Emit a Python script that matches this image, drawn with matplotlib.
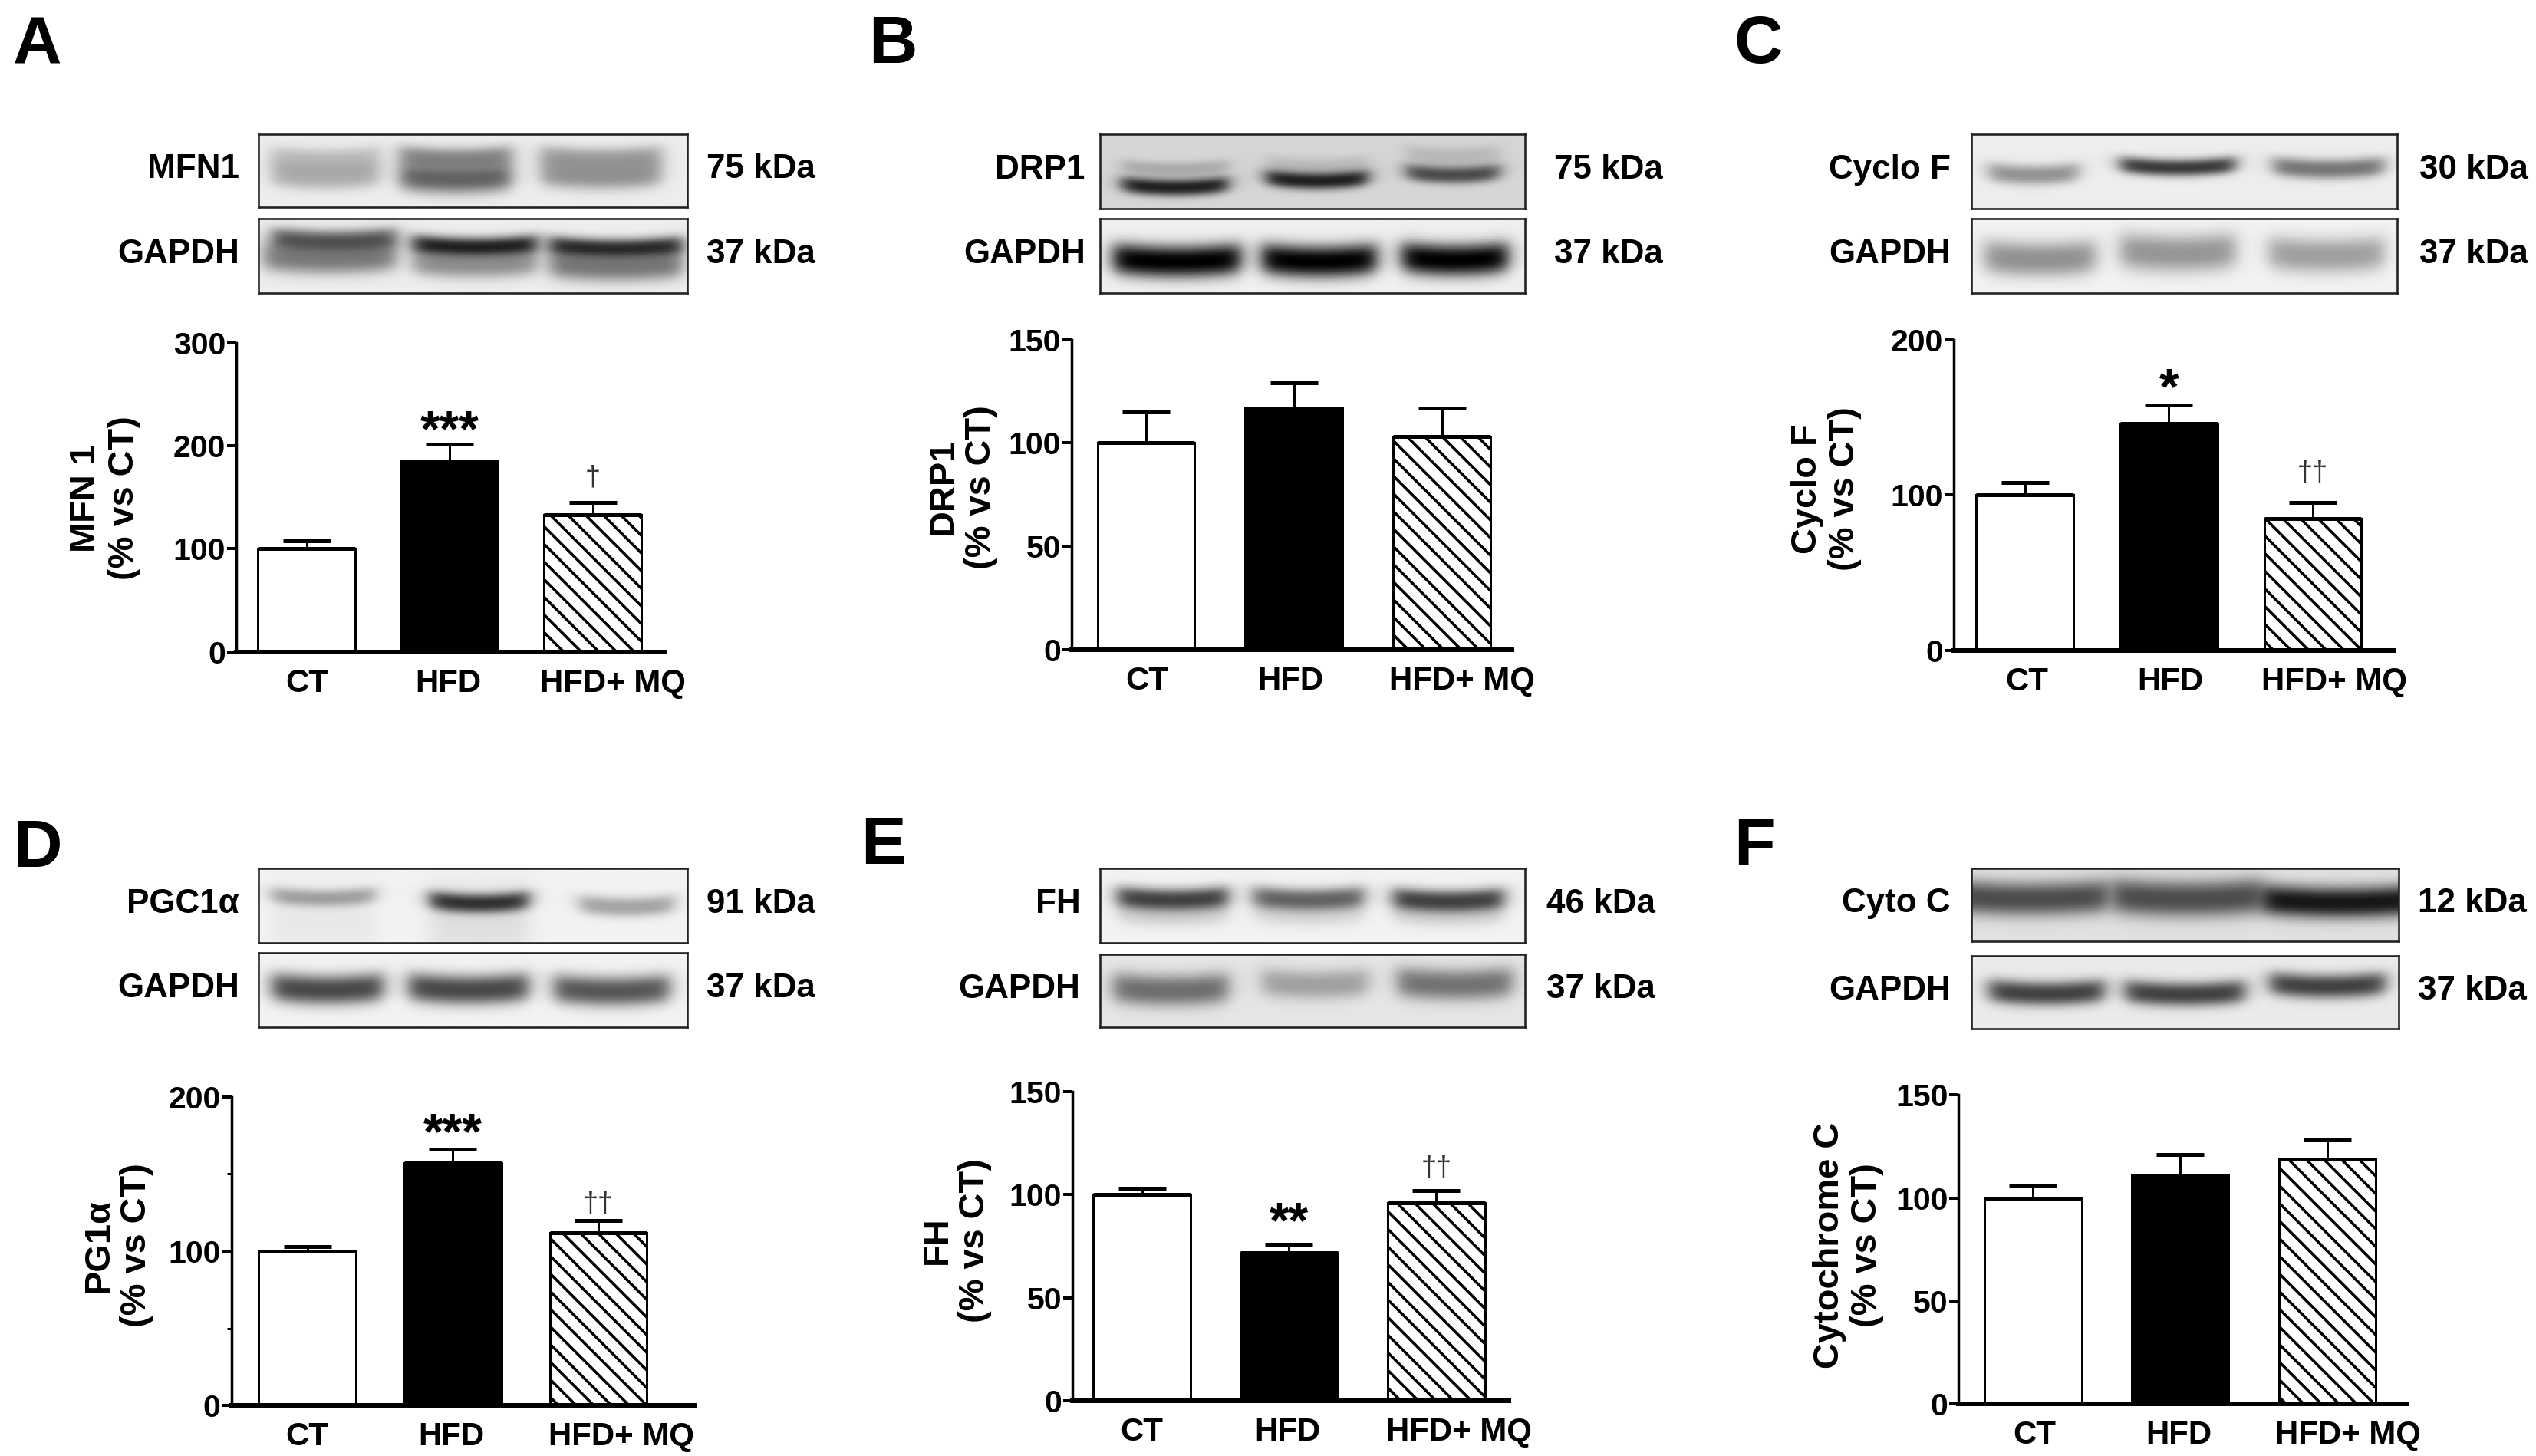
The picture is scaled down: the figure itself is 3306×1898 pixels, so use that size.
import numpy as np
import matplotlib
matplotlib.use("Agg")
import matplotlib.pyplot as plt

W, H, DPI = 3306, 1898, 138
S = 3306 / 1568          # layout numbers below are in 1568-wide picture units
PX = 72 / DPI            # one output pixel in points
plt.rcParams['font.family'] = ['Liberation Sans', 'DejaVu Sans']
plt.rcParams['font.weight'] = 'bold'
plt.rcParams['hatch.linewidth'] = 3.6 * PX
plt.rcParams['hatch.color'] = 'black'

# ---------- data ----------
groups = ['CT', 'HFD', 'HFD+ MQ']
mfn1_mean, mfn1_err = [100, 185, 133], [8, 17, 12]
drp1_mean, drp1_err = [100, 117, 103], [15, 12, 14]
cyclo_mean, cyclo_err = [100, 146, 85], [8, 12, 10]
pgc_mean, pgc_err = [100, 157, 112], [3, 9, 8]
fh_mean, fh_err = [100, 72, 96], [3, 4, 6]
cyto_mean, cyto_err = [100, 111, 119], [6, 10, 9]

panel_letters = ['A', 'B', 'C', 'D', 'E', 'F']
ylabels = ['MFN 1\n(% vs CT)', 'DRP1\n(% vs CT)', 'Cyclo F\n(% vs CT)',
           'PG1α\n(% vs CT)', 'FH\n(% vs CT)', 'Cytochrome C\n(% vs CT)']
yticks = [[0, 100, 200, 300], [0, 50, 100, 150], [0, 100, 200],
          [0, 100, 200], [0, 50, 100, 150], [0, 50, 100, 150]]
blot_names = ['MFN1', 'DRP1', 'Cyclo F', 'PGC1α', 'FH', 'Cyto C']
blot_kda = ['75 kDa', '75 kDa', '30 kDa', '91 kDa', '46 kDa', '12 kDa']
gapdh_name, gapdh_kda = 'GAPDH', '37 kDa'
stars = [[(1, 213, '***')], [], [(1, 167, '*')], [(1, 175, '***')], [(1, 85.5, '**')], []]
daggers = [[(2, 169, '†')], [], [(2, 114, '††')], [(2, 130, '††')], [(2, 113, '††')], []]

# western-blot band sketches: background grey, then (x0, x1, yc, sigma, darkness)
blot_mfn1 = (.93, [(.03, .28, .36, .10, .22), (.03, .28, .60, .10, .26),
                   (.33, .59, .33, .09, .42), (.33, .59, .62, .12, .58),
                   (.66, .94, .33, .09, .32), (.66, .94, .58, .11, .38)])
gapdh_a = (.93, [(.03, .32, .30, .09, .62), (.01, .32, .55, .12, .48),
                 (.36, .65, .38, .08, .85), (.36, .65, .62, .11, .40),
                 (.68, .99, .40, .08, .80), (.68, .99, .65, .12, .50)])
blot_drp1 = (.84, [(.05, .30, .47, .06, .20), (.05, .30, .72, .07, .85),
                   (.39, .63, .43, .07, .13), (.39, .63, .63, .07, .85),
                   (.72, .94, .30, .08, .14), (.72, .94, .55, .07, .65)])
gapdh_b = (.94, [(.03, .33, .58, .13, 1.0), (.38, .65, .58, .13, 1.0), (.71, .96, .56, .13, 1.0)])
blot_cyclo = (.93, [(.04, .25, .55, .08, .38), (.35, .62, .45, .07, .75), (.71, .97, .47, .08, .50)])
gapdh_c = (.95, [(.03, .29, .55, .14, .40), (.35, .62, .47, .15, .38), (.70, .97, .50, .14, .34)])
blot_pgc = (.95, [(.03, .27, .40, .07, .32), (.40, .63, .47, .08, .78), (.75, .97, .52, .08, .32),
                  (.40, .63, .70, .30, .08), (.03, .27, .70, .30, .04)])
gapdh_d = (.95, [(.03, .29, .50, .12, .70), (.35, .63, .50, .12, .70), (.69, .96, .52, .12, .64)])
blot_fh = (.95, [(.04, .30, .42, .09, .72), (.36, .62, .42, .09, .58), (.69, .95, .44, .09, .72),
                 (.04, .30, .62, .10, .15), (.36, .62, .62, .10, .12), (.69, .95, .62, .10, .15)])
gapdh_e = (.90, [(.03, .30, .50, .13, .52), (.38, .63, .42, .12, .30), (.70, .97, .42, .13, .50)])
blot_cyto = (.88, [(-.05, .32, .42, .14, .66), (.33, .68, .42, .15, .66), (.68, 1.05, .47, .13, .90)])
gapdh_f = (.92, [(.04, .31, .52, .10, .72), (.36, .64, .53, .10, .72), (.70, .97, .42, .10, .72)])

means = [mfn1_mean, drp1_mean, cyclo_mean, pgc_mean, fh_mean, cyto_mean]
errors = [mfn1_err, drp1_err, cyclo_err, pgc_err, fh_err, cyto_err]
blots = [(blot_mfn1, gapdh_a), (blot_drp1, gapdh_b), (blot_cyclo, gapdh_c),
         (blot_pgc, gapdh_d), (blot_fh, gapdh_e), (blot_cyto, gapdh_f)]

# ---------- layout (picture units) ----------
ax_x = [146, 662.5, 1208, 143, 663, 1211]
ax_xend = [411, 935, 1480, 429, 933, 1488]
ax_y0 = [403, 401.5, 402, 869, 866, 868]
ax_ytop = [212, 210, 210, 678, 675, 677]
bar_c0 = [189.5, 708.5, 1252, 190, 706, 1257]
bar_step = [88.5, 91.5, 89, 90, 91, 91]
bar_w = 60
label_x = [[190, 277, 379], [709, 798, 904], [1253, 1342, 1443],
           [190, 279, 384], [706, 796, 902], [1258, 1347, 1452]]
ylab_x = [65, 595, 1129, 73, 591, 1143]
ylab_y = [308, 301, 302, 770, 767, 770]
blot_x0 = [160, 680, 1219, 160, 680, 1219]
blot_x1 = [425, 943, 1482, 425, 943, 1483]
blot_top_y = [(83, 128), (83, 129), (83, 129), (537, 583), (537, 583), (537, 582)]
blot_bot_y = [(135, 181), (135, 181), (135, 181), (589, 635), (590, 635), (591, 636)]
blot_lab_x = [148, 671, 1206, 148, 668, 1206]
blot_kda_x = [437, 961, 1496, 437, 956, 1495]
letter_x = [8, 537, 1072, 8, 532, 1072]
letter_y = [39, 39, 39, 536, 534, 535]

fig = plt.figure(figsize=(W / DPI, H / DPI), dpi=DPI, facecolor='white')


def fbox(x0, x1, ytop, ybot):
    return [x0 * S / W, 1 - ybot * S / H, (x1 - x0) * S / W, (ybot - ytop) * S / H]


def blot_image(spec, nx=260, ny=60):
    bg, bands = spec
    xx, yy = np.meshgrid(np.linspace(0, 1, nx), np.linspace(0, 1, ny))
    img = np.full_like(xx, bg)
    for x0, x1, yc, sig, dark in bands:
        xm, hw = (x0 + x1) / 2, (x1 - x0) / 2
        xprof = 1 / (1 + np.exp(-(xx - x0) / .012)) * 1 / (1 + np.exp((xx - x1) / .012))
        bow = .05 * ((xx - xm) / hw) ** 2          # band edges curl up a little
        yprof = np.exp(-np.abs((yy - yc + bow) / (sig * 1.7)) ** 2.4)
        img *= 1 - dark * xprof * yprof
    return img


def draw_blot(x0, x1, ytop, ybot, spec):
    a = fig.add_axes(fbox(x0, x1, ytop, ybot))
    a.imshow(blot_image(spec), cmap='gray', vmin=0, vmax=1, aspect='auto', interpolation='bilinear')
    a.set_xticks([])
    a.set_yticks([])
    for sp in a.spines.values():
        sp.set_linewidth(2.6 * PX)
        sp.set_color('#222222')


for i in range(6):
    # panel letter
    fig.text(letter_x[i] * S / W, 1 - letter_y[i] * S / H, panel_letters[i], fontsize=88 * PX,
             ha='left', va='baseline')
    # blots with labels
    for (yt, yb), spec, name, kda in zip((blot_top_y[i], blot_bot_y[i]), blots[i],
                                         (blot_names[i], gapdh_name), (blot_kda[i], gapdh_kda)):
        draw_blot(blot_x0[i], blot_x1[i], yt, yb, spec)
        yc = 1 - ((yt + yb) / 2 - 1) * S / H
        fig.text(blot_lab_x[i] * S / W, yc, name, fontsize=44 * PX, ha='right', va='center')
        fig.text(blot_kda_x[i] * S / W, yc, kda, fontsize=44 * PX, ha='left', va='center')

    # bar chart
    ax = fig.add_axes(fbox(ax_x[i], ax_xend[i], ax_ytop[i], ax_y0[i]))
    ax.patch.set_alpha(0)
    c0, st = bar_c0[i], bar_step[i]
    ax.set_xlim((ax_x[i] - c0) / st, (ax_xend[i] - c0) / st)
    ax.set_ylim(0, yticks[i][-1])
    pos = np.arange(3)
    w = bar_w / st
    m, e = means[i], errors[i]
    ax.bar(pos[0], m[0], w, facecolor='white', edgecolor='black', linewidth=3 * PX, zorder=2)
    ax.bar(pos[1], m[1], w, facecolor='black', edgecolor='black', linewidth=3 * PX, zorder=2)
    ax.bar(pos[2], m[2], w, facecolor='white', edgecolor='black', linewidth=3 * PX,
           hatch='\\\\', zorder=2)
    ax.hlines(m, pos - w / 2, pos + w / 2, color='black', linewidth=5 * PX, zorder=3)
    ax.errorbar(pos, m, yerr=[np.zeros(3), e], fmt='none', ecolor='black', elinewidth=3 * PX,
                capsize=31 * PX, capthick=5 * PX, zorder=1)
    for sp in ('top', 'right'):
        ax.spines[sp].set_visible(False)
    ax.spines['left'].set_linewidth(3.5 * PX)
    ax.spines['bottom'].set_linewidth(6 * PX)
    ax.spines['bottom'].set_zorder(5)
    ax.set_yticks(yticks[i])
    ax.tick_params(axis='y', length=12 * PX, width=4 * PX, pad=2 * PX, labelsize=41 * PX)
    if i == 3:
        ax.set_yticks([50, 150], minor=True)
        ax.tick_params(axis='y', which='minor', length=6 * PX, width=3 * PX)
    ax.set_xticks([(x - c0) / st for x in label_x[i]], groups)
    ax.tick_params(axis='x', length=0, pad=21 * PX, labelsize=42 * PX)

    fig.text(ylab_x[i] * S / W, 1 - ylab_y[i] * S / H, ylabels[i], rotation=90, fontsize=47 * PX,
             ha='center', va='center', ma='center', linespacing=1.15)

    for bx, by, s in stars[i]:
        ax.text(bx, by, s, fontsize=66 * PX, ha='center', va='center', zorder=6)
    for bx, by, s in daggers[i]:
        ax.text(bx, by, s, fontsize=36 * PX, ha='center', va='center', fontweight='normal',
                color='#333333', zorder=6)

fig.savefig('out.png', dpi=DPI, facecolor='white')
